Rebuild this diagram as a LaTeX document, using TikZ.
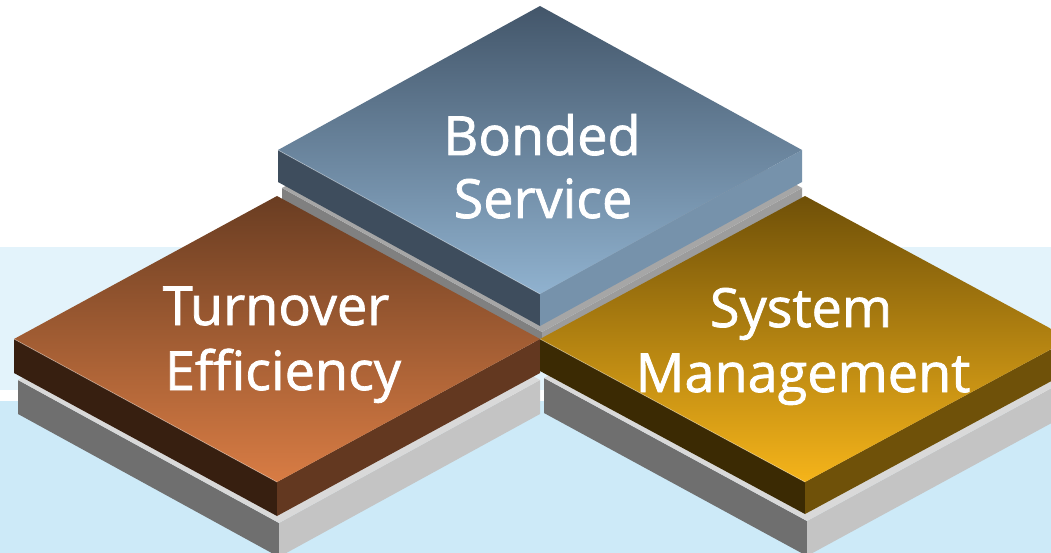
\documentclass[tikz,border=0pt]{standalone}
\usepackage{fontspec}
\setmainfont{Open Sans}
\newfontfamily\lblfont{Open Sans}[FakeBold=1.4]
\definecolor{bgtop}{HTML}{E3F3FB}
\definecolor{bgbot}{HTML}{CDEAF8}
\definecolor{blueA}{HTML}{43566A}
\definecolor{blueB}{HTML}{90B2CF}
\definecolor{blueL}{HTML}{3E4D5D}
\definecolor{blueR}{HTML}{7692AB}
\definecolor{brownA}{HTML}{6A3D22}
\definecolor{brownB}{HTML}{D87C44}
\definecolor{brownL}{HTML}{371F10}
\definecolor{brownR}{HTML}{633820}
\definecolor{goldA}{HTML}{6F5008}
\definecolor{goldB}{HTML}{F5B41A}
\definecolor{goldL}{HTML}{3B2A03}
\definecolor{goldR}{HTML}{6F5109}
\definecolor{grT}{HTML}{D9D9D9}
\definecolor{grL}{HTML}{6F6F6F}
\definecolor{grR}{HTML}{C4C4C4}
\definecolor{gbT}{HTML}{A6A6A6}
\definecolor{gbL}{HTML}{808080}
\definecolor{gbR}{HTML}{9C9C9C}
% tile: cx, cy, a, b, t, topcolor, bottomcolor, leftcolor, rightcolor
\newcommand\tileblock[9]{%
  \fill[#8] (#1-#3,#2) -- (#1,#2+#4) -- (#1,#2+#4+#5) -- (#1-#3,#2+#5) -- cycle;
  \fill[#9] (#1,#2+#4) -- (#1+#3,#2) -- (#1+#3,#2+#5) -- (#1,#2+#4+#5) -- cycle;
  \shade[top color=#6,bottom color=#7] (#1,#2-#4) -- (#1+#3,#2) -- (#1,#2+#4) -- (#1-#3,#2) -- cycle;
  \draw[white,opacity=.35,line width=.8pt] (#1-#3,#2) -- (#1,#2+#4);
}
% plate: cx, cy, a, b, t, topcolor, leftcolor, rightcolor
\newcommand\plateblock[8]{%
  \fill[#7] (#1-#3,#2) -- (#1,#2+#4) -- (#1,#2+#4+#5) -- (#1-#3,#2+#5) -- cycle;
  \fill[#8] (#1,#2+#4) -- (#1+#3,#2) -- (#1+#3,#2+#5) -- (#1,#2+#4+#5) -- cycle;
  \fill[#6] (#1,#2-#4) -- (#1+#3,#2) -- (#1,#2+#4) -- (#1-#3,#2) -- cycle;
}
\tikzset{
  lblA/.style={text=white,font=\lblfont\fontsize{54}{62}\selectfont,inner sep=0pt,anchor=base},
  lblB/.style={text=white,font=\lblfont\fontsize{54}{62}\selectfont,inner sep=0pt,anchor=base}
}
\begin{document}
\begin{tikzpicture}[x=1pt,y=-1pt]
\useasboundingbox (0,0) rectangle (1051,553);
\fill[white] (0,0) rectangle (1051,553);
\fill[bgtop] (0,247) rectangle (1051,390);
\fill[bgbot] (0,401) rectangle (1051,553);
% blue
\plateblock{542}{188}{260}{144}{14}{gbT}{gbL}{gbR}
\tileblock{540}{150}{262}{144}{32}{blueA}{blueB}{blueL}{blueR}
% brown
\plateblock{279}{380}{261}{143}{34}{grT}{grL}{grR}
\tileblock{277}{339}{263}{143}{34}{brownA}{brownB}{brownL}{brownR}
% gold
\plateblock{807}{378}{263}{143}{35}{grT}{grL}{grR}
\tileblock{805}{339}{265}{143}{32}{goldA}{goldB}{goldL}{goldR}
% labels
\node[lblA] (b1) at (542,155) {Bonded};
\node[lblA] (b2) at (543,218) {Service};
\node[lblB] (t1) at (276,325) {Turnover};
\node[lblB] (t2) at (283,390) {Efficiency};
\node[lblA] (s1) at (801,327) {System};
\node[lblA] (s2) at (803,392) {Management};
\end{tikzpicture}
\end{document}
